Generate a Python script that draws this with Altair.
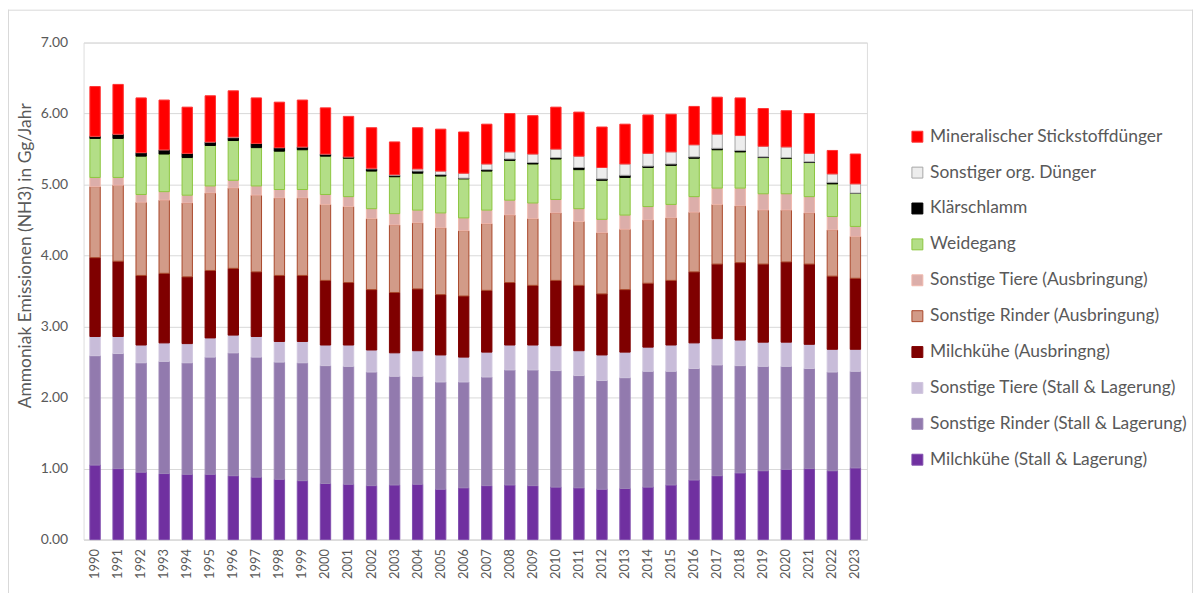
import altair as alt
import pandas as pd

years = [str(y) for y in range(1990, 2024)]

series_names = [
    "Mineralischer Stickstoffdünger",
    "Sonstiger org. Dünger",
    "Klärschlamm",
    "Weidegang",
    "Sonstige Tiere (Ausbringung)",
    "Sonstige Rinder (Ausbringung)",
    "Milchkühe (Ausbringng)",
    "Sonstige Tiere (Stall & Lagerung)",
    "Sonstige Rinder (Stall & Lagerung)",
    "Milchkühe (Stall & Lagerung)",
]
fill_colors = ["#FF0000", "#EDEDED", "#000000", "#B3DE87", "#DCAEAA",
               "#D29B88", "#7F0000", "#C8BCD9", "#927AAE", "#7030A0"]
stroke_colors = ["#FF3333", "#A6A6A6", "#000000", "#8CC63F", "#F0B8AC",
                 "#A9482A", "#7F0000", "#D0C6DE", "#9C86B6", "#8150AE"]

milchkuehe_stall = [1.05, 1.00, 0.95, 0.93, 0.92, 0.92, 0.90, 0.88, 0.85, 0.83, 0.79, 0.78,
                    0.76, 0.77, 0.78, 0.71, 0.73, 0.76, 0.77, 0.76, 0.74, 0.73, 0.71, 0.72,
                    0.74, 0.77, 0.84, 0.90, 0.94, 0.97, 0.99, 1.00, 0.97, 1.01]
sonst_rinder_stall = [1.54, 1.62, 1.54, 1.58, 1.57, 1.65, 1.73, 1.69, 1.65, 1.66, 1.66, 1.66,
                      1.60, 1.53, 1.52, 1.51, 1.49, 1.53, 1.62, 1.63, 1.64, 1.58, 1.53, 1.56,
                      1.63, 1.60, 1.57, 1.56, 1.51, 1.47, 1.45, 1.41, 1.39, 1.36]
sonst_tiere_stall = [0.27, 0.24, 0.25, 0.26, 0.27, 0.27, 0.25, 0.29, 0.29, 0.30, 0.29, 0.30,
                     0.31, 0.33, 0.36, 0.38, 0.35, 0.35, 0.35, 0.35, 0.35, 0.35, 0.36, 0.36,
                     0.34, 0.37, 0.36, 0.37, 0.36, 0.34, 0.34, 0.34, 0.32, 0.31]
milchkuehe_ausbr = [1.11, 1.06, 0.98, 0.98, 0.94, 0.95, 0.94, 0.91, 0.93, 0.93, 0.91, 0.88,
                    0.85, 0.85, 0.87, 0.85, 0.86, 0.87, 0.88, 0.84, 0.92, 0.92, 0.86, 0.88,
                    0.90, 0.91, 1.00, 1.05, 1.09, 1.10, 1.13, 1.13, 1.03, 1.00]
sonst_rinder_ausbr = [1.00, 1.07, 1.03, 1.03, 1.04, 1.09, 1.13, 1.08, 1.09, 1.09, 1.07, 1.07,
                      1.00, 0.95, 0.93, 0.94, 0.92, 0.94, 0.95, 0.94, 0.95, 0.90, 0.86, 0.85,
                      0.89, 0.88, 0.84, 0.84, 0.80, 0.76, 0.73, 0.72, 0.65, 0.59]
sonst_tiere_ausbr = [0.13, 0.11, 0.11, 0.12, 0.11, 0.10, 0.11, 0.13, 0.12, 0.12, 0.14, 0.14,
                     0.14, 0.16, 0.18, 0.21, 0.18, 0.19, 0.21, 0.22, 0.19, 0.18, 0.19, 0.20,
                     0.19, 0.19, 0.22, 0.23, 0.25, 0.23, 0.23, 0.23, 0.19, 0.14]
weidegang = [0.55, 0.55, 0.54, 0.53, 0.53, 0.57, 0.56, 0.54, 0.54, 0.56, 0.54, 0.54,
             0.53, 0.52, 0.52, 0.52, 0.55, 0.55, 0.56, 0.55, 0.57, 0.55, 0.55, 0.53,
             0.55, 0.55, 0.54, 0.54, 0.51, 0.51, 0.50, 0.48, 0.46, 0.47]
klaerschlamm = [0.03, 0.06, 0.05, 0.06, 0.06, 0.05, 0.04, 0.06, 0.05, 0.04, 0.03, 0.02,
                0.03, 0.02, 0.03, 0.02, 0.01, 0.02, 0.02, 0.02, 0.02, 0.03, 0.02, 0.03,
                0.02, 0.02, 0.02, 0.02, 0.02, 0.01, 0.01, 0.01, 0.02, 0.00]
sonst_org = [0.00, 0.00, 0.00, 0.00, 0.00, 0.00, 0.01, 0.00, 0.00, 0.00, 0.00, 0.00,
             0.01, 0.01, 0.03, 0.05, 0.07, 0.08, 0.10, 0.12, 0.12, 0.16, 0.16, 0.16,
             0.18, 0.17, 0.17, 0.20, 0.21, 0.15, 0.15, 0.12, 0.12, 0.13]
mineral = [0.70, 0.70, 0.77, 0.70, 0.65, 0.65, 0.65, 0.64, 0.64, 0.66, 0.65, 0.57,
           0.57, 0.46, 0.58, 0.59, 0.58, 0.56, 0.54, 0.54, 0.59, 0.62, 0.57, 0.56,
           0.54, 0.53, 0.54, 0.52, 0.53, 0.53, 0.51, 0.56, 0.33, 0.42]

# stack order bottom -> top
stack_series = [milchkuehe_stall, sonst_rinder_stall, sonst_tiere_stall, milchkuehe_ausbr,
                sonst_rinder_ausbr, sonst_tiere_ausbr, weidegang, klaerschlamm, sonst_org, mineral]
stack_names = list(reversed(series_names))

rows = []
for idx, (name, vals) in enumerate(zip(stack_names, stack_series)):
    for y, v in zip(years, vals):
        rows.append({"Jahr": y, "Serie": name, "Wert": v, "idx": idx})
df = pd.DataFrame(rows)

FONT = "Lato"
GREY = "#595959"

legend_kw = dict(title=None, orient="none", legendX=830, legendY=86,
                 symbolType="square", symbolSize=121, symbolStrokeWidth=1,
                 labelFontSize=17.5, labelColor=GREY, labelFont=FONT, labelOffset=4,
                 rowPadding=17.1, labelLimit=400)

bars = alt.Chart(df).mark_bar(strokeWidth=1).encode(
    x=alt.X("Jahr:N", sort=years,
            scale=alt.Scale(paddingInner=0.55, paddingOuter=0.275),
            axis=alt.Axis(title=None, labelAngle=-90, labelFontSize=13, labelColor=GREY,
                          labelFont=FONT, ticks=False, domainColor="#D9D9D9",
                          domainWidth=1, labelPadding=9, grid=False,
                          labelBaseline="middle", labelAlign="right")),
    y=alt.Y("Wert:Q", stack="zero",
            scale=alt.Scale(domain=[0, 7], nice=False),
            axis=alt.Axis(title="Ammoniak Emissionen (NH3) in Gg/Jahr", format=".2f",
                          values=[0, 1, 2, 3, 4, 5, 6, 7], labelFontSize=14,
                          labelColor=GREY, labelFont=FONT, titleFont=FONT,
                          titleFontSize=17.5, titleColor=GREY, titleFontWeight="normal",
                          titleY=214,
                          ticks=False, domain=False, gridColor="#D9D9D9",
                          labelPadding=16, titlePadding=6)),
    fill=alt.Fill("Serie:N", scale=alt.Scale(domain=series_names, range=fill_colors),
                  legend=alt.Legend(**legend_kw)),
    stroke=alt.Stroke("Serie:N", scale=alt.Scale(domain=series_names, range=stroke_colors),
                      legend=alt.Legend(**legend_kw)),
    order=alt.Order("idx:Q", sort="ascending"),
)

frame_df = pd.DataFrame({"a": [0]})
BORDER = "#D9D9D9"
top_line = alt.Chart(frame_df).mark_rule(color=BORDER, strokeWidth=1).encode(
    x=alt.value(-76), x2=alt.value(1116), y=alt.value(-32.5))
left_line = alt.Chart(frame_df).mark_rule(color=BORDER, strokeWidth=1).encode(
    x=alt.value(-75.5), y=alt.value(-33), y2=alt.value(560))
right_line = alt.Chart(frame_df).mark_rule(color=BORDER, strokeWidth=1).encode(
    x=alt.value(1115.5), y=alt.value(-33), y2=alt.value(560))

chart = alt.layer(bars, top_line, left_line, right_line).properties(
    width=788, height=500,
    autosize=alt.AutoSizeParams(type="none"),
    padding={"left": 76, "top": 33, "right": 329, "bottom": 52},
).configure_view(stroke=None).configure(font=FONT)

chart.save("out.html", embed_options={"renderer": "svg", "actions": False})
